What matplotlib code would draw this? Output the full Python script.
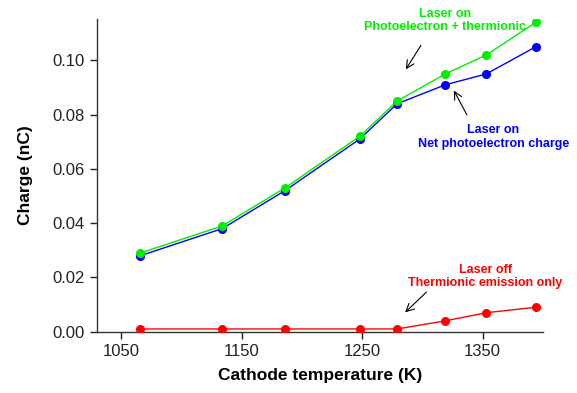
import matplotlib
matplotlib.use("Agg")
import matplotlib.pyplot as plt

# データ
temperature = [1066, 1134, 1186, 1248, 1279, 1319, 1353, 1394]
photo_plus_thermionic = [0.029, 0.039, 0.053, 0.072, 0.085, 0.095, 0.102, 0.114]
net_photo = [0.028, 0.038, 0.052, 0.071, 0.084, 0.091, 0.095, 0.105]
thermionic_only = [0.001, 0.001, 0.001, 0.001, 0.001, 0.004, 0.007, 0.009]

x_ticks = [1050, 1150, 1250, 1350]
y_ticks = [0.00, 0.02, 0.04, 0.06, 0.08, 0.10]

plt.rcParams['font.family'] = ['Liberation Sans', 'DejaVu Sans']

fig = plt.figure(figsize=(5.77, 3.93), dpi=100)
ax = fig.add_axes([0.168, 0.156, 0.773, 0.796])

ax.plot(temperature, thermionic_only, color='#ff0000', lw=1, marker='o', ms=5.5, zorder=3)
ax.plot(temperature, net_photo, color='#0000ff', lw=1, marker='o', ms=5.5, zorder=3)
ax.plot(temperature, photo_plus_thermionic, color='#00ee00', lw=1, marker='o', ms=5.5, zorder=4)

ax.set_xlim(1030, 1400)
ax.set_ylim(0, 0.1153)
ax.set_xticks(x_ticks)
ax.set_yticks(y_ticks)
ax.set_yticklabels([f"{v:.2f}" for v in y_ticks])
ax.tick_params(direction='out', length=5, width=1, labelsize=12, pad=4, colors='#222222')

for s in ['top', 'right']:
    ax.spines[s].set_visible(False)
for s in ['left', 'bottom']:
    ax.spines[s].set_linewidth(1)
    ax.spines[s].set_color('#333333')

ax.set_xlabel('Cathode temperature (K)', fontsize=12.5, fontweight='bold', labelpad=6)
ax.set_ylabel('Charge (nC)', fontsize=12.5, fontweight='bold', labelpad=14)

# 注釈
akw = dict(arrowstyle='->', color='black', lw=0.8, mutation_scale=14)
ax.text(1319, 0.1146, 'Laser on\nPhotoelectron + thermionic', ha='center', va='center',
        fontsize=9, fontweight='bold', color='#00ee00', linespacing=1.15)
ax.annotate('', xy=(1285, 0.0958), xytext=(1300, 0.1064), arrowprops=akw)

ax.text(1359, 0.0718, 'Laser on\nNet photoelectron charge', ha='center', va='center',
        fontsize=9, fontweight='bold', color='#0000ff', linespacing=1.15)
ax.annotate('', xy=(1325, 0.0898), xytext=(1338, 0.0790), arrowprops=akw)

ax.text(1352, 0.0203, 'Laser off\nThermionic emission only', ha='center', va='center',
        fontsize=9, fontweight='bold', color='#ff0000', linespacing=1.15)
ax.annotate('', xy=(1284, 0.0064), xytext=(1305, 0.0153), arrowprops=akw)

fig.savefig('out.png', dpi=100)
